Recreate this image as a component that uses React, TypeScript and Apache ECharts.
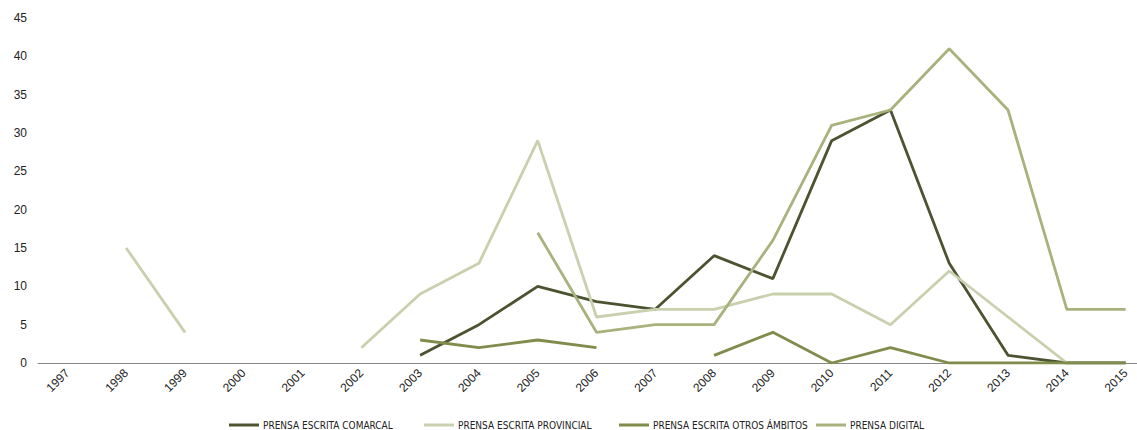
import React, { useEffect, useRef } from "react";
import * as echarts from "echarts";

const years = ["1997","1998","1999","2000","2001","2002","2003","2004","2005","2006","2007","2008","2009","2010","2011","2012","2013","2014","2015"];
const comarcal = [null,null,null,null,null,null,1,5,10,8,7,14,11,29,33,13,1,0,0];
const provincial = [null,15,4,null,null,2,9,13,29,6,7,7,9,9,5,12,6,0,null];
const otros = [null,null,null,null,null,null,3,2,3,2,null,1,4,0,2,0,0,0,0];
const digital = [null,null,null,null,null,null,null,null,17,4,5,5,16,31,33,41,33,7,7];

const names = ["PRENSA ESCRITA COMARCAL","PRENSA ESCRITA PROVINCIAL","PRENSA ESCRITA OTROS ÁMBITOS","PRENSA DIGITAL"];
const colors = ["#4b5331","#c8d0ae","#7f8c4c","#a7b27c"];
const legendLeft = [229, 424, 619, 816];

export default function App() {
  const ref = useRef<HTMLDivElement>(null);
  useEffect(() => {
    const chart = echarts.init(ref.current!, null, { renderer: "svg" });
    const datas = [comarcal, provincial, otros, digital];
    chart.setOption({
      animation: false,
      backgroundColor: "#ffffff",
      grid: { left: 38, top: 18, bottom: 67, width: 1117 },
      legend: names.map((n, i) => ({
        bottom: 0,
        left: legendLeft[i],
        padding: 0,
        itemWidth: 30,
        itemHeight: 3,
        itemGap: 3,
        icon: "rect",
        textStyle: { fontFamily: "'DejaVu Sans Condensed', 'Liberation Sans', sans-serif", fontSize: 10, color: "#222", padding: [0, 0, 0, -1] },
        data: [n],
      })),
      xAxis: {
        type: "category",
        data: years,
        boundaryGap: true,
        axisLine: { lineStyle: { color: "#888", width: 1 } },
        axisTick: { show: false },
        axisLabel: { rotate: 45, fontFamily: "Liberation Sans", fontSize: 12, color: "#222", margin: 8 },
      },
      yAxis: {
        type: "value",
        min: 0,
        max: 45,
        interval: 5,
        axisLine: { show: false },
        axisTick: { show: false },
        splitLine: { show: false },
        axisLabel: { fontFamily: "Liberation Sans", fontSize: 12, color: "#222", margin: 11 },
      },
      series: names.map((n, i) => ({
        name: n,
        type: "line",
        data: datas[i],
        symbol: "none",
        connectNulls: false,
        lineStyle: { color: colors[i], width: 2.8 },
        itemStyle: { color: colors[i] },
      })),
    });
    return () => chart.dispose();
  }, []);
  return (
    <div style={{ position: "fixed", left: 0, top: 0, width: 1137, height: 430, overflow: "hidden", background: "#fff" }}>
      <div ref={ref} style={{ position: "absolute", left: 0, top: 0, width: 1160, height: 430 }} />
    </div>
  );
}
